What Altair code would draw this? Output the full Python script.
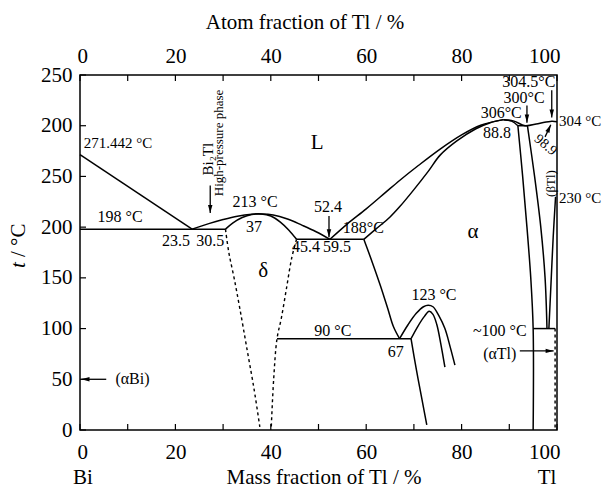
import altair as alt
import pandas as pd

W, H = 477, 355
FONT = "Liberation Serif"

# ---------------- phase boundaries: mass fraction of Tl (%) vs t (°C) ----------------
bi_liq_m = [0, 23.5]
bi_liq_t = [271.442, 198]
eut198_m = [0, 30.5]
eut198_t = [198, 198]

delta_liq_m = [23.5, 27, 30, 33, 36, 38, 40.5, 43.5, 46.5, 49.5, 52.4]
delta_liq_t = [198, 203.5, 207.5, 210.8, 212.7, 213, 212, 208, 202, 195.5, 188]
delta_sol_m = [30.5, 32, 34, 36, 38, 40, 42, 43.8, 45.4]
delta_sol_t = [198, 204, 209.5, 212.5, 213, 211, 205, 197, 188]
eut188_m = [45.4, 59.5]
eut188_t = [188, 188]

alpha_liq_m = [52.4, 56, 60, 64, 67, 71, 75.5, 80, 84, 88.8]
alpha_liq_t = [188, 203, 218, 234, 246, 261, 277, 291, 300.5, 306]
alpha_sol_m = [59.5, 62, 65, 67, 70, 73, 75.5, 79, 83, 86, 88.8]
alpha_sol_t = [188, 198, 210, 220, 237, 255, 271, 285, 297, 303, 306]

tl_liq_m = [88.8, 91, 93.3, 96, 98.9, 100]
tl_liq_t = [306, 304.5, 300, 302, 304.5, 304]
tl_sol_m = [88.8, 90.5, 91.8]
tl_sol_t = [306, 304.5, 300]
per300_m = [91.8, 93.8]
per300_t = [300, 300]

alpha_solvus_m = [91.8, 92.8, 93.7, 94.5, 95, 95]
alpha_solvus_t = [300, 250, 200, 150, 100, 0]
beta_left_m = [93.8, 95.3, 96.6, 97.5, 97.9]
beta_left_t = [300, 250, 200, 150, 100]
beta_right_m = [99.7, 99.2, 98.7, 98.3]
beta_right_t = [230, 190, 140, 100]
eutectoid_m = [95, 99.6]
eutectoid_t = [100, 100]
atl_solvus_m = [99.6, 99.6]
atl_solvus_t = [100, 0]

line90_m = [41.3, 69.4]
line90_t = [90, 90]
alpha_low_m = [59.5, 61.3, 63, 64.5, 65.7, 67]
alpha_low_t = [188, 165, 142, 120, 102, 90]
eps_outer_m = [67, 68.8, 70.5, 72, 73, 74, 75.2, 76.5, 77.6, 78.6]
eps_outer_t = [90, 104, 115, 121.5, 123, 121.5, 113, 100, 82, 64]
eps_inner_m = [69.4, 70.8, 72.2, 73.2, 74, 74.8, 75.6, 76.5]
eps_inner_t = [90, 102, 112, 117, 114, 104, 86, 62]
below90_m = [69.4, 70.5, 71.7, 72.7]
below90_t = [90, 60, 30, 5]
delta_left_m = [30.5, 31.2, 32.3, 33.5, 35, 36.5, 37.7]
delta_left_t = [198, 175, 150, 120, 80, 40, 3]
delta_right_m = [45.4, 44.4, 43.3, 42.2, 41.3, 40.6, 40.1]
delta_right_t = [188, 170, 140, 110, 90, 50, 3]

segments = [
    ("bi_liq", bi_liq_m, bi_liq_t, "solid"),
    ("eut198", eut198_m, eut198_t, "solid"),
    ("delta_liq", delta_liq_m, delta_liq_t, "solid"),
    ("delta_sol", delta_sol_m, delta_sol_t, "solid"),
    ("eut188", eut188_m, eut188_t, "solid"),
    ("alpha_liq", alpha_liq_m, alpha_liq_t, "solid"),
    ("alpha_sol", alpha_sol_m, alpha_sol_t, "solid"),
    ("tl_liq", tl_liq_m, tl_liq_t, "solid"),
    ("tl_sol", tl_sol_m, tl_sol_t, "solid"),
    ("per300", per300_m, per300_t, "solid"),
    ("alpha_solvus", alpha_solvus_m, alpha_solvus_t, "solid"),
    ("beta_left", beta_left_m, beta_left_t, "solid"),
    ("beta_right", beta_right_m, beta_right_t, "solid"),
    ("eutectoid", eutectoid_m, eutectoid_t, "solid"),
    ("atl_solvus", atl_solvus_m, atl_solvus_t, "dotted"),
    ("line90", line90_m, line90_t, "solid"),
    ("alpha_low", alpha_low_m, alpha_low_t, "solid"),
    ("eps_outer", eps_outer_m, eps_outer_t, "solid"),
    ("eps_inner", eps_inner_m, eps_inner_t, "solid"),
    ("below90", below90_m, below90_t, "solid"),
    ("delta_left", delta_left_m, delta_left_t, "dotted"),
    ("delta_right", delta_right_m, delta_right_t, "dotted"),
]

# ---------------- annotations ----------------
ann_text = ["198 °C", "23.5", "30.5", "213 °C", "37", "52.4", "188°C", "45.4", "59.5",
            "90 °C", "67", "123 °C", "306°C", "88.8", "300°C", "304.5°C",
            "~100 °C", "(αTl)", "(αBi)"]
ann_m = [8.4, 20.1, 27.3, 36.7, 36.5, 52, 59.4, 47.4, 53.9,
         53, 66.2, 74.2, 88.3, 87.4, 93.1, 94.1,
         88, 88, 11]
ann_t = [210, 186, 186, 225, 200, 220, 199, 180, 180,
         98, 77, 133, 313, 293, 327, 343,
         98, 75, 50]

left_text = ["271.442 °C", "304 °C", "230 °C"]
left_m = [0.8, 100.4, 100.4]
left_t = [283, 305, 229]

phase_text = ["L", "δ", "α"]
phase_m = [49.7, 38.4, 82.4]
phase_t = [283, 157, 195]

vert_text = ["Bi₂Tl", "High-pressure phase", "(βTl)"]
vert_m = [26.8, 29.1, 98.7]
vert_t = [267, 283, 243]
vert_size = [15, 13, 13]

slant_text = ["98.9"]
slant_m = [97.6]
slant_t = [281]

# arrows: tail (m0, t0) -> tip (m1, t1), heading in degrees clockwise from up
arr_m0 = [27.3, 52.2, 93.7, 98.9, 97.5, 5.5, 92.2]
arr_t0 = [241, 211, 320, 335, 289, 50, 78]
arr_m1 = [27.3, 52.2, 93.7, 98.9, 98.7, 0.3, 99.3]
arr_t1 = [214, 190, 303, 308, 301, 50, 78]
arr_dir = [180, 180, 180, 180, 25, 270, 90]

# axes
y_ticks = [0, 50, 100, 150, 200, 250, 300, 350]
x_ticks = list(range(0, 101, 10))
x_labels = [0, 20, 40, 60, 80, 100]

bottom_title = "Mass fraction of Tl / %"
top_title = "Atom fraction of Tl / %"
left_end, right_end = "Bi", "Tl"

# ---------------- build tables ----------------
rows = []
for name, ms, ts, style in segments:
    for i, (m, t) in enumerate(zip(ms, ts)):
        rows.append({"seg": name, "i": i, "m": m, "t": t, "style": style})
lines = pd.DataFrame(rows)

ann = pd.DataFrame({"txt": ann_text, "m": ann_m, "t": ann_t})
ann_left = pd.DataFrame({"txt": left_text, "m": left_m, "t": left_t})
phases = pd.DataFrame({"txt": phase_text, "m": phase_m, "t": phase_t})
verts = pd.DataFrame({"txt": vert_text, "m": vert_m, "t": vert_t, "s": vert_size})
slants = pd.DataFrame({"txt": slant_text, "m": slant_m, "t": slant_t})
arrows = pd.DataFrame({"m0": arr_m0, "t0": arr_t0, "m1": arr_m1, "t1": arr_t1, "dir": arr_dir})
yt = pd.DataFrame({"t": y_ticks})
xt = pd.DataFrame({"m": x_ticks})
at = pd.DataFrame({"a": x_ticks})
one = pd.DataFrame({"k": [0]})

xs = alt.Scale(domain=[0, 100], nice=False, zero=False)
xs_top = alt.Scale(domain=[0, 100], nice=False, zero=False)
ys = alt.Scale(domain=[0, 350], nice=False)

bottom_axis = alt.Axis(values=x_labels, title=None, labelFlush=True, labelFlushOffset=3,
                       labelPadding=11, ticks=False, domain=False, grid=False)
left_axis = alt.Axis(values=y_ticks, title=None, labelPadding=8, ticks=False, domain=False,
                     grid=False,
                     labelExpr="datum.value == 300 ? '200' : datum.value == 350 ? '250' : datum.label")


def xm(field):
    return alt.X(field, type="quantitative", scale=xs, axis=bottom_axis)


def yt_(field):
    return alt.Y(field, type="quantitative", scale=ys, axis=left_axis)


solid = alt.Chart(lines).transform_filter("datum.style == 'solid'").mark_line(
    color="black", strokeWidth=1.5, interpolate="catmull-rom"
).encode(x=xm("m"), y=yt_("t"), detail="seg:N", order="i:Q")

dotted = alt.Chart(lines).transform_filter("datum.style == 'dotted'").mark_line(
    color="black", strokeWidth=1.4, strokeDash=[3, 3], interpolate="catmull-rom"
).encode(x=xm("m"), y=yt_("t"), detail="seg:N", order="i:Q")

txt_c = alt.Chart(ann).mark_text(font=FONT, fontSize=16, color="black").encode(
    x=xm("m"), y=yt_("t"), text="txt:N")
txt_l = alt.Chart(ann_left).mark_text(font=FONT, fontSize=15, color="black", align="left").encode(
    x=xm("m"), y=yt_("t"), text="txt:N")
txt_p = alt.Chart(phases).mark_text(font=FONT, fontSize=21, color="black").encode(
    x=xm("m"), y=yt_("t"), text="txt:N")
txt_v = alt.Chart(verts).mark_text(font=FONT, color="black", angle=270).encode(
    x=xm("m"), y=yt_("t"), text="txt:N", size=alt.Size("s:Q", scale=None, legend=None))
txt_s = alt.Chart(slants).mark_text(font=FONT, fontSize=14, color="black", angle=40).encode(
    x=xm("m"), y=yt_("t"), text="txt:N")

shafts = alt.Chart(arrows).mark_rule(color="black", strokeWidth=1.3).encode(
    x=xm("m0"), x2="m1:Q", y=yt_("t0"), y2="t1:Q")
heads = alt.Chart(arrows).mark_point(
    shape="M0,0L-0.5,1.8L0.5,1.8Z", filled=True, color="black", opacity=1, size=80
).encode(x=xm("m1"), y=yt_("t1"), angle=alt.Angle("dir:Q", scale=None))

# inward tick marks
ticks_b = alt.Chart(xt).mark_rule(color="black", strokeWidth=1.2).encode(
    x=xm("m"), y=alt.value(H), y2=alt.value(H - 6))
ticks_l = alt.Chart(yt).mark_rule(color="black", strokeWidth=1.2).encode(
    y=yt_("t"), x=alt.value(0), x2=alt.value(6))

# axis titles and component names
t_italic = alt.Chart(one).mark_text(text="t", font=FONT, fontSize=21, fontStyle="italic",
                                    angle=270, align="left", baseline="middle").encode(
    x=alt.value(-61), y=alt.value(193))
t_unit = alt.Chart(one).mark_text(text="/ °C", font=FONT, fontSize=21, angle=270,
                                  align="left", baseline="middle").encode(
    x=alt.value(-61), y=alt.value(182))
b_title = alt.Chart(one).mark_text(text=bottom_title, font=FONT, fontSize=21).encode(
    x=alt.value(244), y=alt.value(403))
b_left = alt.Chart(one).mark_text(text=left_end, font=FONT, fontSize=21).encode(
    x=alt.value(3), y=alt.value(403))
b_right = alt.Chart(one).mark_text(text=right_end, font=FONT, fontSize=21).encode(
    x=alt.value(467), y=alt.value(403))
t_title = alt.Chart(one).mark_text(text=top_title, font=FONT, fontSize=21).encode(
    x=alt.value(225), y=alt.value(-52))

mass_layers = alt.layer(solid, dotted, ticks_b, ticks_l, shafts, heads,
                        txt_c, txt_l, txt_p, txt_v, txt_s,
                        t_italic, t_unit, b_title, b_left, b_right, t_title)

top_axis = alt.Chart(at).mark_rule(color="black", strokeWidth=1.2).encode(
    x=alt.X("a:Q", scale=xs_top,
            axis=alt.Axis(orient="top", values=x_labels, title=None, labelFlush=True,
                          labelFlushOffset=3, labelPadding=9, ticks=False, domain=False,
                          grid=False)),
    y=alt.value(0), y2=alt.value(6))

chart = alt.layer(mass_layers, top_axis).resolve_scale(x="independent").properties(
    width=W, height=H,
    autosize=alt.AutoSizeParams(type="none"),
    padding={"left": 80, "top": 75, "right": 47, "bottom": 63},
    background="white",
).configure_view(stroke="black", strokeWidth=1.5).configure_axis(
    labelFont=FONT, labelFontSize=21, labelColor="black"
)

chart.save("out.html", embed_options={"renderer": "svg", "actions": False})
